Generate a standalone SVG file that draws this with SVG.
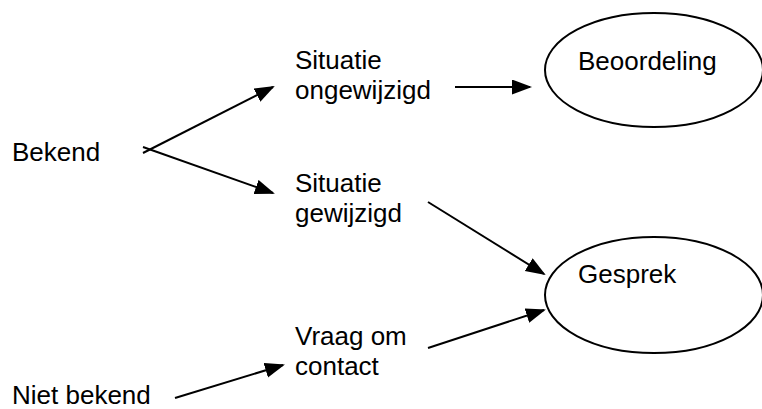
<svg xmlns="http://www.w3.org/2000/svg" width="762" height="409" viewBox="0 0 762 409">
<style>
text{font-family:"Liberation Sans",Arial,sans-serif;font-size:26px;fill:#000}
.n{fill:#fff;stroke:#000;stroke-width:2}
.c{stroke:#000;stroke-width:2;fill:none;marker-end:url(#ah)}
</style>
<defs>
<marker id="ah" markerUnits="userSpaceOnUse" markerWidth="22" markerHeight="16" refX="18" refY="7.5" orient="auto">
<path d="M0,0 L20,7.5 L0,15 z" fill="#000"/>
</marker>
</defs>
<rect width="762" height="409" fill="#fff"/>
<g id="connectors">
<line class="c" x1="143" y1="153" x2="273" y2="87"/>
<line class="c" x1="143" y1="147" x2="273" y2="193"/>
<line class="c" x1="455" y1="87" x2="530" y2="87"/>
<line class="c" x1="428" y1="202" x2="544" y2="274"/>
<line class="c" x1="428" y1="348" x2="544" y2="310"/>
<line class="c" x1="175" y1="398" x2="283" y2="365"/>
</g>
<g id="bekend"><text x="12" y="161">Bekend</text></g>
<g id="niet-bekend"><text x="12" y="404">Niet bekend</text></g>
<g id="situatie-ongewijzigd"><text x="295" y="69">Situatie</text><text x="295" y="99">ongewijzigd</text></g>
<g id="situatie-gewijzigd"><text x="295" y="192">Situatie</text><text x="295" y="222">gewijzigd</text></g>
<g id="vraag-om-contact"><text x="295" y="345">Vraag om</text><text x="295" y="375">contact</text></g>
<g id="beoordeling"><ellipse class="n" cx="654" cy="70" rx="109" ry="57"/><text x="578" y="70">Beoordeling</text></g>
<g id="gesprek"><ellipse class="n" cx="654" cy="295" rx="109" ry="58"/><text x="578" y="283">Gesprek</text></g>
</svg>
